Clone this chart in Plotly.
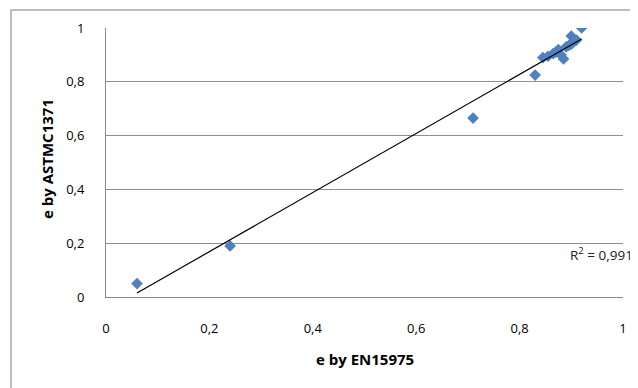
import numpy as np
import plotly.graph_objects as go

# Data
en15975 = [0.06, 0.24, 0.71, 0.83, 0.845, 0.855, 0.865, 0.87, 0.875, 0.88, 0.885, 0.89, 0.895, 0.90, 0.90, 0.905, 0.91, 0.92]
astmc1371 = [0.05, 0.19, 0.665, 0.825, 0.89, 0.895, 0.905, 0.91, 0.92, 0.90, 0.885, 0.93, 0.935, 0.94, 0.97, 0.95, 0.955, 1.00]

tick_vals = [0, 0.2, 0.4, 0.6, 0.8, 1]
tick_text = ["0", "0,2", "0,4", "0,6", "0,8", "1"]

x_title = "e by EN15975"
y_title = "e by ASTMC1371"
r2_text = "R<sup>2</sup> = 0,991"

# Linear trendline
slope, intercept = np.polyfit(en15975, astmc1371, 1)
xt = [min(en15975), max(en15975)]
yt = [slope * v + intercept for v in xt]

OFF = 8  # page body margin
W, H = 638 - OFF, 388 - OFF
L, R, T, B = 106, 623, 28, 297  # target screen pixels
pw, ph = R - L, B - T

def px(xpix):
    return (xpix - L) / pw

def py(ypix):
    return (B - ypix) / ph

font = "Open Sans"

fig = go.Figure()
fig.add_trace(go.Scatter(
    x=en15975, y=astmc1371, mode="markers",
    marker=dict(symbol="diamond", size=9, color="#4F81BD", line=dict(width=0)),
    showlegend=False,
))
fig.add_trace(go.Scatter(
    x=xt, y=yt, mode="lines",
    line=dict(color="#000000", width=1.2),
    showlegend=False,
))

fig.update_layout(
    width=W, height=H,
    margin=dict(l=L - OFF, r=W - (R - OFF), t=T - OFF, b=H - (B - OFF), pad=0),
    paper_bgcolor="white", plot_bgcolor="white",
    font=dict(family=font, size=13, color="#000000"),
    separators=", ",
    xaxis=dict(range=[0, 1], tickvals=tick_vals, ticktext=tick_text,
               showgrid=False, zeroline=False, showline=True, linecolor="#8a8a8a",
               linewidth=1, ticks="", ticklabelstandoff=19,
               tickfont=dict(family=font, size=13)),
    yaxis=dict(range=[0, 1], tickvals=tick_vals, ticktext=tick_text,
               showgrid=True, gridcolor="#8f8f8f", gridwidth=1, zeroline=False,
               showline=True, linecolor="#8a8a8a", linewidth=1, ticks="",
               ticklabelstandoff=18, tickfont=dict(family=font, size=13)),
    shapes=[
        dict(type="path", xref="paper", yref="paper",
             path=f"M {px(11)} {py(400)} L {px(11)} {py(10)} L {px(645)} {py(10)}",
             line=dict(color="#bdbdbd", width=2)),
    ],
    annotations=[
        dict(text=f"<b>{x_title}</b>", xref="paper", yref="paper",
             x=px(365), y=py(359), xanchor="center", yanchor="middle",
             showarrow=False, font=dict(family=font, size=15)),
        dict(text=f"<b>{y_title}</b>", xref="paper", yref="paper",
             x=px(47), y=py(159), xanchor="center", yanchor="middle",
             textangle=-90, showarrow=False, font=dict(family=font, size=15)),
        dict(text=r2_text, xref="paper", yref="paper",
             x=px(568), y=py(254), xanchor="left", yanchor="middle",
             showarrow=False, font=dict(family=font, size=13.5, color="#222222")),
    ],
)

fig.write_html("out.html")
